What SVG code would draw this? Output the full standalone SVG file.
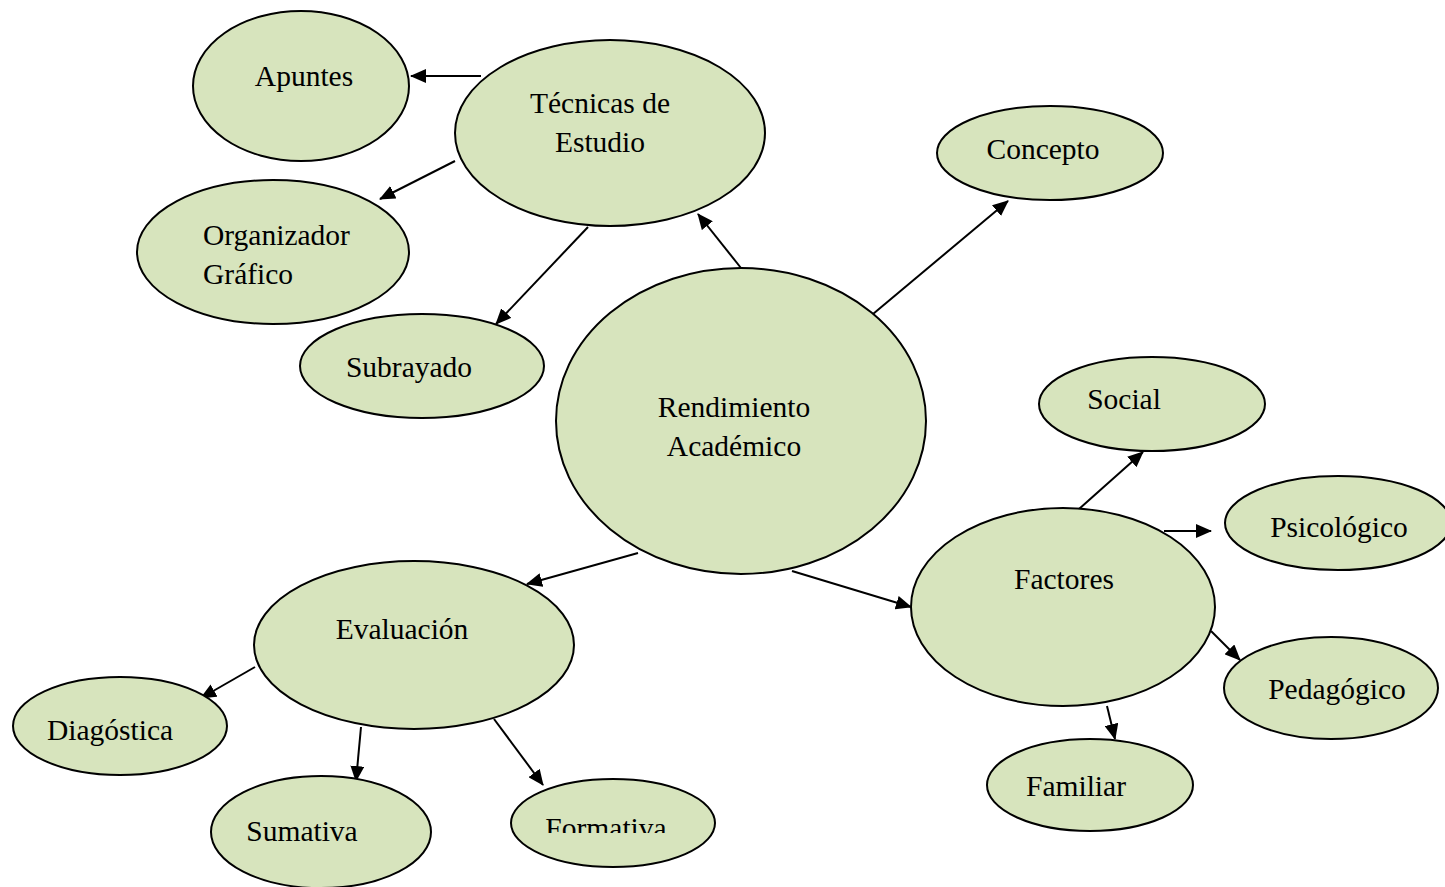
<svg xmlns="http://www.w3.org/2000/svg" width="1445" height="887" viewBox="0 0 1445 887">
<style>
.n ellipse{fill:#d7e4bd;stroke:#000;stroke-width:2}
text{font-family:"Liberation Serif","Times New Roman",serif;font-size:29.5px;fill:#000;text-anchor:middle}
.l{text-anchor:start}
#edges line{stroke:#000;stroke-width:2;marker-end:url(#ah)}
</style>
<defs>
<marker id="ah" markerUnits="userSpaceOnUse" markerWidth="16" markerHeight="14" refX="15" refY="7" orient="auto">
<path d="M0,0 L16,7 L0,14 Z" fill="#000"/>
</marker>
<clipPath id="fclip"><rect x="500" y="770" width="230" height="63"/></clipPath>
</defs>
<rect width="1445" height="887" fill="#fff"/>
<g id="edges">
<line x1="481" y1="76" x2="411" y2="76"/>
<line x1="455" y1="161" x2="380" y2="199"/>
<line x1="588" y1="227" x2="496" y2="324"/>
<line x1="741" y1="268" x2="698" y2="214"/>
<line x1="873" y1="314" x2="1008" y2="201"/>
<line x1="638" y1="553" x2="527" y2="584"/>
<line x1="792" y1="571" x2="911" y2="607"/>
<line x1="1079" y1="509" x2="1143" y2="452"/>
<line x1="1164" y1="531" x2="1211" y2="531"/>
<line x1="1211" y1="631" x2="1240" y2="660"/>
<line x1="1107" y1="706" x2="1115" y2="739"/>
<line x1="255" y1="667" x2="201" y2="698"/>
<line x1="361" y1="727" x2="356" y2="781"/>
<line x1="494" y1="719" x2="543" y2="785"/>
</g>
<g id="apuntes" class="n"><ellipse cx="301" cy="86" rx="108" ry="75"/><text x="304" y="86">Apuntes</text></g>
<g id="tecnicas" class="n"><ellipse cx="610" cy="133" rx="155" ry="93"/><text x="600" y="113">Técnicas de</text><text x="600" y="152">Estudio</text></g>
<g id="concepto" class="n"><ellipse cx="1050" cy="153" rx="113" ry="47"/><text x="1043" y="159">Concepto</text></g>
<g id="organizador" class="n"><ellipse cx="273" cy="252" rx="136" ry="72"/><text class="l" x="203" y="245">Organizador</text><text class="l" x="203" y="284">Gráfico</text></g>
<g id="subrayado" class="n"><ellipse cx="422" cy="366" rx="122" ry="52"/><text x="409" y="377">Subrayado</text></g>
<g id="rendimiento" class="n"><ellipse cx="741" cy="421" rx="185" ry="153"/><text x="734" y="417">Rendimiento</text><text x="734" y="456">Académico</text></g>
<g id="social" class="n"><ellipse cx="1152" cy="404" rx="113" ry="47"/><text x="1124" y="409">Social</text></g>
<g id="psicologico" class="n"><ellipse cx="1338" cy="523" rx="113" ry="47"/><text x="1339" y="537">Psicológico</text></g>
<g id="factores" class="n"><ellipse cx="1063" cy="607" rx="152" ry="99"/><text x="1064" y="589">Factores</text></g>
<g id="pedagogico" class="n"><ellipse cx="1331" cy="688" rx="107" ry="51"/><text x="1337" y="699">Pedagógico</text></g>
<g id="familiar" class="n"><ellipse cx="1090" cy="785" rx="103" ry="46"/><text x="1076" y="796">Familiar</text></g>
<g id="evaluacion" class="n"><ellipse cx="414" cy="645" rx="160" ry="84"/><text x="402" y="639">Evaluación</text></g>
<g id="diagostica" class="n"><ellipse cx="120" cy="726" rx="107" ry="49"/><text x="110" y="740">Diagóstica</text></g>
<g id="sumativa" class="n"><ellipse cx="321" cy="832" rx="110" ry="56"/><text x="302" y="841">Sumativa</text></g>
<g id="formativa" class="n"><ellipse cx="613" cy="823" rx="102" ry="44"/><text x="606" y="838" clip-path="url(#fclip)">Formativa</text></g>
</svg>
